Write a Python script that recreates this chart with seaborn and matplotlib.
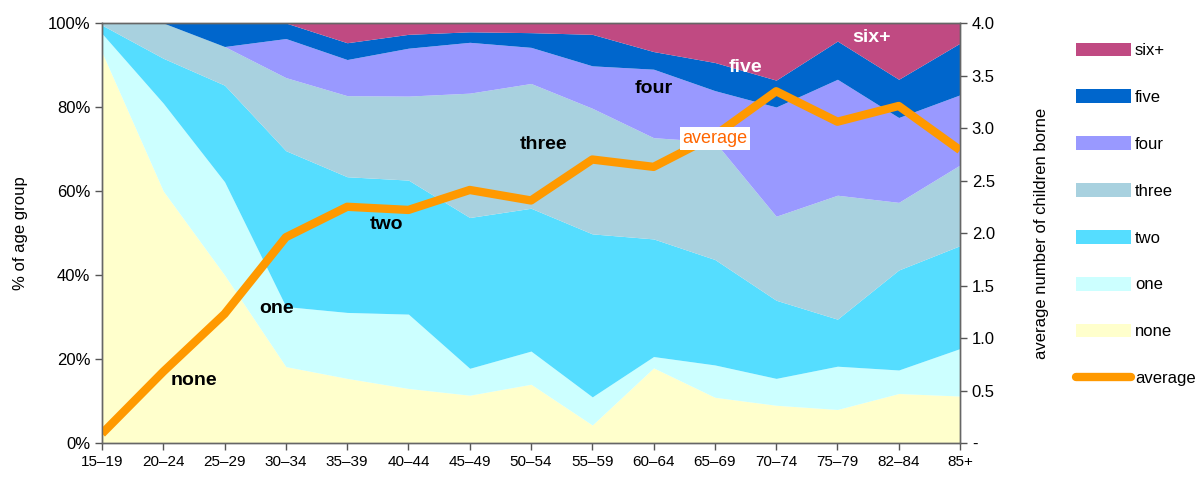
import numpy as np
import seaborn as sns
import matplotlib.pyplot as plt
from matplotlib.patches import Patch
from matplotlib.lines import Line2D

# age groups (x axis)
age_groups = ['15–19', '20–24', '25–29', '30–34', '35–39', '40–44', '45–49', '50–54',
              '55–59', '60–64', '65–69', '70–74', '75–79', '82–84', '85+']

# share of women by number of children borne (%)
none_pct  = [93.0, 60.0, 40.0, 18.2, 15.4, 13.0, 11.4, 14.0, 4.3, 17.9, 10.9, 9.0, 8.0, 11.8, 11.2]
one_pct   = [4.5, 20.9, 22.2, 14.3, 15.7, 17.7, 6.4, 7.9, 6.7, 2.7, 7.7, 6.4, 10.3, 5.6, 11.3]
two_pct   = [2.0, 10.7, 23.0, 37.1, 32.3, 31.9, 35.9, 34.0, 38.8, 28.0, 25.1, 18.6, 11.2, 23.8, 24.5]
three_pct = [0.5, 8.4, 9.2, 17.4, 19.3, 20.0, 29.6, 29.7, 29.9, 24.1, 28.0, 20.0, 29.5, 16.1, 19.2]
four_pct  = [0.0, 0.0, 0.0, 9.3, 8.6, 11.4, 12.1, 8.6, 10.1, 16.3, 12.2, 26.0, 27.6, 20.2, 16.7]
five_pct  = [0.0, 0.0, 5.6, 3.7, 4.0, 3.3, 2.5, 3.5, 7.5, 4.2, 6.7, 6.4, 9.1, 9.1, 12.3]
six_pct   = [0.0, 0.0, 0.0, 0.0, 4.7, 2.7, 2.1, 2.3, 2.7, 6.8, 9.4, 13.6, 4.3, 13.4, 4.8]

# average number of children borne (right axis)
average = [0.09, 0.68, 1.23, 1.96, 2.25, 2.22, 2.41, 2.31, 2.70, 2.63, 2.93, 3.35, 3.06, 3.21, 2.79]

series_names = ['none', 'one', 'two', 'three', 'four', 'five', 'six+']
series_vals = [none_pct, one_pct, two_pct, three_pct, four_pct, five_pct, six_pct]
colors = ['#FFFFCC', '#CCFFFF', '#55DDFF', '#A8D1DF', '#9999FF', '#0066CC', '#C04A82']
orange = '#FF9900'

sns.set_style('white')
plt.rcParams['font.family'] = ['Liberation Sans', 'DejaVu Sans']
plt.rcParams['text.color'] = 'black'
plt.rcParams['axes.labelcolor'] = 'black'

fig = plt.figure(figsize=(12, 4.79), dpi=100)
ax = fig.add_axes([0.085, 0.075, 0.715, 0.877])
x = np.arange(len(age_groups))

ax.stackplot(x, *series_vals, colors=colors, linewidth=0)
ax.set_xlim(0, len(age_groups) - 1)
ax.set_ylim(0, 100)
ax.set_yticks(range(0, 101, 20))
ax.set_yticklabels([f'{v}%' for v in range(0, 101, 20)])
ax.set_xticks(x)
ax.set_xticklabels(age_groups)
ax.set_ylabel('% of age group', fontsize=12, labelpad=14)

ax2 = ax.twinx()
sns.lineplot(x=x, y=average, ax=ax2, color=orange, linewidth=6, solid_capstyle='butt')
ax2.set_ylim(0, 4)
ax2.set_yticks(np.arange(0, 4.01, 0.5))
ax2.set_yticklabels(['-'] + [f'{v:.1f}' for v in np.arange(0.5, 4.01, 0.5)])
ax2.set_ylabel('average number of children borne', fontsize=12, labelpad=28)

for a in (ax, ax2):
    a.tick_params(axis='both', labelsize=12, direction='out', length=5, width=1,
                  color='#555555', labelcolor='black')
    for s in a.spines.values():
        s.set_color('#666666')
        s.set_linewidth(1)
ax.tick_params(axis='x', labelsize=11, bottom=True)
ax.tick_params(axis='y', left=True)
ax2.tick_params(axis='y', right=True)

# in-chart labels
lab = dict(fontsize=14, fontweight='bold', ha='center', va='center')
ax.text(1.5, 15, 'none', color='black', **lab)
ax.text(2.85, 32, 'one', color='black', **lab)
ax.text(4.65, 52, 'two', color='black', **lab)
ax.text(7.2, 71, 'three', color='black', **lab)
ax.text(9.0, 84.5, 'four', color='black', **lab)
ax.text(10.5, 89.5, 'five', color='white', **lab)
ax.text(12.55, 96.5, 'six+', color='white', **lab)
ax2.text(10.0, 2.9, 'average', color='#FF6600', fontsize=13, ha='center', va='center',
         zorder=5, bbox=dict(facecolor='white', edgecolor='none', pad=2))

# legend
handles = [Patch(facecolor=c, edgecolor='none') for c in colors[::-1]]
handles.append(Line2D([0], [0], color=orange, linewidth=6, solid_capstyle='round'))
labels = series_names[::-1] + ['average']
fig.legend(handles, labels, loc='upper left', bbox_to_anchor=(0.891, 0.925), frameon=False,
           fontsize=12, handlelength=3.3, handleheight=0.9, labelspacing=1.87, handletextpad=0.25,
           borderaxespad=0)

fig.savefig('out.png', dpi=100)
